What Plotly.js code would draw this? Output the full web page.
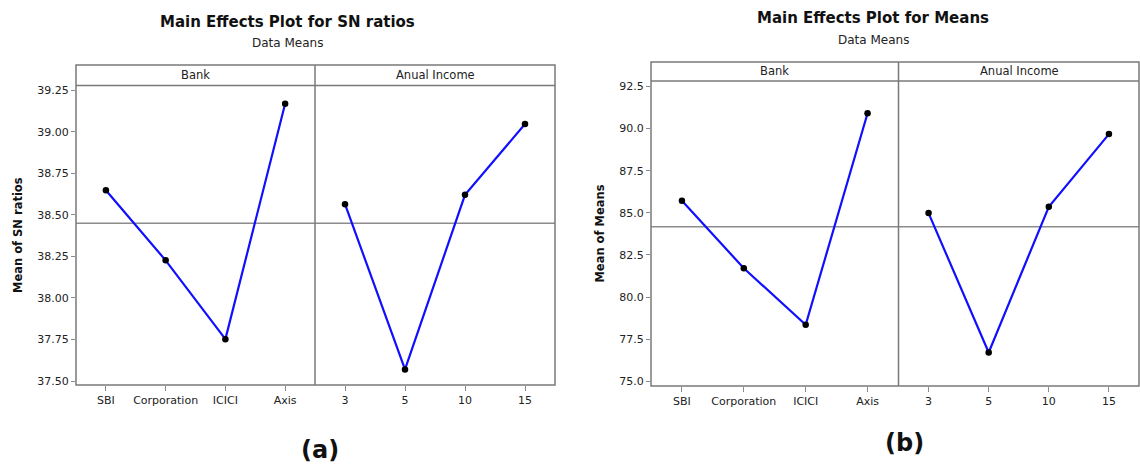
<!DOCTYPE html>
<html>
<head>
<meta charset="utf-8">
<script src="https://cdn.plot.ly/plotly-3.0.1.min.js"></script>
<style>
  html, body { margin: 0; padding: 0; background: #ffffff; }
  #chart { width: 1140px; height: 468px; }
</style>
</head>
<body>
<div id="chart"></div>
<script>
// Factor levels
const bankLevels = ['SBI', 'Corporation', 'ICICI', 'Axis'];
const incomeLevels = ['3', '5', '10', '15'];

// (a) Main effects for SN ratios
const snBank = [38.648, 38.226, 37.752, 39.168];
const snIncome = [38.564, 37.570, 38.620, 39.046];

// (b) Main effects for means
const meansBank = [85.71, 81.71, 78.35, 90.91];
const meansIncome = [84.98, 76.71, 85.36, 89.67];

// Axis ticks
const snTicks = [37.50, 37.75, 38.00, 38.25, 38.50, 38.75, 39.00, 39.25];
const meansTicks = [75.0, 77.5, 80.0, 82.5, 85.0, 87.5, 90.0, 92.5];

const W = 1140, H = 468;
const px = x => x / W;
const py = y => 1 - y / H;

const grandMean = arr => arr.reduce((s, v) => s + v, 0) / arr.length;
const snMean = grandMean(snBank.concat(snIncome));
const meansMean = grandMean(meansBank.concat(meansIncome));

const FONT = 'Tahoma, "DejaVu Sans", sans-serif';
const frameColor = '#7a7a7a';
const lineBlue = '#1010ff';

function series(x, y, xa, ya) {
  return {
    x: x, y: y, xaxis: xa, yaxis: ya, type: 'scatter', mode: 'lines+markers',
    line: { color: lineBlue, width: 2.2 },
    marker: { color: '#000000', size: 6.5 },
    hoverinfo: 'x+y', showlegend: false
  };
}

const traces = [
  series(bankLevels, snBank, 'x', 'y'),
  series(incomeLevels, snIncome, 'x2', 'y'),
  series(bankLevels, meansBank, 'x3', 'y2'),
  series(incomeLevels, meansIncome, 'x4', 'y2')
];

// panel geometry (pixels)
const A = { l: 76, d: 315, r: 555, top: 65, strip: 85.5, bot: 385 };
const B = { l: 651, d: 898.5, r: 1139, top: 62, strip: 81, bot: 386 };

function xAxis(dom, anchor) {
  return {
    domain: [px(dom[0]), px(dom[1])], anchor: anchor, type: 'category',
    range: [-0.5, 3.5], showgrid: false, zeroline: false, showline: false,
    ticks: 'outside', ticklen: 5, tickwidth: 1, tickcolor: '#8a8a8a',
    tickfont: { family: FONT, size: 11, color: '#222222' }, fixedrange: true
  };
}
function yAxis(dom, anchorX, range, ticks, fmt, title) {
  return {
    domain: [py(dom[1]), py(dom[0])], anchor: anchorX, range: range,
    tickvals: ticks, ticktext: ticks.map(v => v.toFixed(fmt)),
    showgrid: false, zeroline: false, showline: false,
    ticks: 'outside', ticklen: 4, tickwidth: 1, tickcolor: '#8a8a8a',
    tickfont: { family: FONT, size: 11, color: '#222222' },
    title: { text: title, font: { family: FONT, size: 11.5, color: '#111111', weight: 'bold' }, standoff: 12 },
    fixedrange: true
  };
}

function panelShapes(P, yref, refVal) {
  const ln = { color: frameColor, width: 1.5 };
  return [
    { type: 'rect', xref: 'paper', yref: 'paper', x0: px(P.l), x1: px(P.r), y0: py(P.bot), y1: py(P.top), line: ln },
    { type: 'line', xref: 'paper', yref: 'paper', x0: px(P.l), x1: px(P.r), y0: py(P.strip), y1: py(P.strip), line: ln },
    { type: 'line', xref: 'paper', yref: 'paper', x0: px(P.d), x1: px(P.d), y0: py(P.bot), y1: py(P.top), line: ln },
    { type: 'line', xref: 'paper', yref: yref, x0: px(P.l), x1: px(P.r), y0: refVal, y1: refVal, line: { color: '#8c8c8c', width: 1.5 }, layer: 'below' }
  ];
}

function txt(x, y, text, size, bold, color) {
  return {
    xref: 'paper', yref: 'paper', x: px(x), y: py(y), text: text, showarrow: false,
    xanchor: 'center', yanchor: 'middle',
    font: { family: FONT, size: size, color: color || '#222222', weight: bold ? 'bold' : 'normal' }
  };
}

const layout = {
  width: W, height: H,
  margin: { l: 0, r: 0, t: 0, b: 0 },
  paper_bgcolor: '#ffffff', plot_bgcolor: '#ffffff',
  showlegend: false,
  xaxis: xAxis([A.l, A.d], 'y'),
  xaxis2: xAxis([A.d, A.r], 'y'),
  xaxis3: xAxis([B.l, B.d], 'y2'),
  xaxis4: xAxis([B.d, B.r], 'y2'),
  yaxis: yAxis([A.strip, A.bot], 'x', [37.476, 39.278], snTicks, 2, 'Mean of SN ratios'),
  yaxis2: yAxis([B.strip, B.bot], 'x3', [74.72, 92.82], meansTicks, 1, 'Mean of Means'),
  shapes: panelShapes(A, 'y', snMean).concat(panelShapes(B, 'y2', meansMean)),
  annotations: [
    txt(287, 22, 'Main Effects Plot for SN ratios', 15, true, '#111111'),
    txt(287, 43, 'Data Means', 12, false, '#222222'),
    txt(195.5, 75, 'Bank', 11.5, false, '#222222'),
    txt(435, 75, 'Anual Income', 11.5, false, '#222222'),
    txt(320, 450, '(a)', 24, true, '#111111'),
    txt(873, 18, 'Main Effects Plot for Means', 15, true, '#111111'),
    txt(873, 40, 'Data Means', 12, false, '#222222'),
    txt(774.5, 71, 'Bank', 11.5, false, '#222222'),
    txt(1019, 71, 'Anual Income', 11.5, false, '#222222'),
    txt(904, 443, '(b)', 24, true, '#111111')
  ]
};

Plotly.newPlot('chart', traces, layout, { displayModeBar: false, staticPlot: true });
</script>
</body>
</html>
